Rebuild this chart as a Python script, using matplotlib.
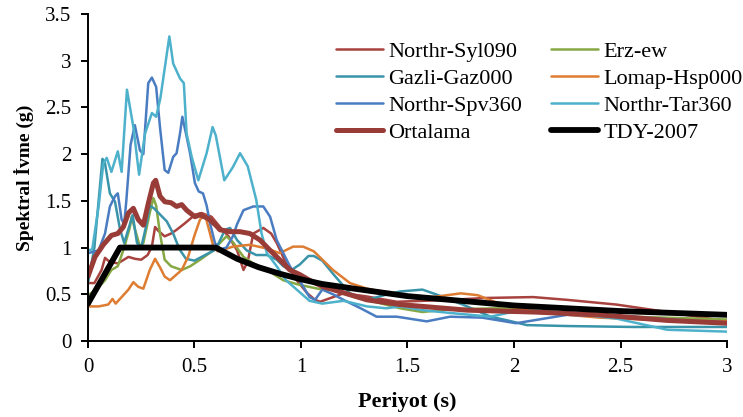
import matplotlib.pyplot as plt

plt.rcParams.update({"font.family": ["Liberation Serif", "DejaVu Serif"]})
plt.rcParams.update({"xtick.labelsize": 15})
plt.rcParams.update({"ytick.labelsize": 15})
plt.rcParams.update({"lines.solid_joinstyle": "round"})
plt.rcParams.update({"lines.solid_capstyle": "round"})

# Periyot (s) / Spektral ivme (g)
t_syl = [0, 0.03, 0.064, 0.08, 0.10, 0.14, 0.19, 0.22, 0.25, 0.28, 0.30, 0.315, 0.33, 0.36, 0.39,
         0.416, 0.455, 0.502, 0.533, 0.58, 0.62, 0.66, 0.70, 0.73, 0.75, 0.776, 0.823, 0.86, 0.886,
         0.93, 0.98, 1.03, 1.066, 1.09, 1.2, 1.3, 1.45, 1.70, 1.86, 2.09, 2.25, 2.48, 2.72, 3.0]
s_syl = [0.62, 0.62, 0.76, 0.89, 0.85, 0.83, 0.90, 0.88, 0.87, 0.92, 1.01, 1.22, 1.18, 1.12, 1.15,
         1.19, 1.26, 1.35, 1.37, 1.33, 1.22, 1.12, 0.97, 0.76, 0.85, 1.15, 1.21, 1.15, 1.05,
         0.83, 0.65, 0.51, 0.44, 0.42, 0.51, 0.48, 0.42, 0.44, 0.46, 0.47, 0.44, 0.39, 0.31, 0.21]

t_erz = [0, 0.04, 0.08, 0.11, 0.14, 0.17, 0.197, 0.205, 0.22, 0.244, 0.26, 0.29, 0.307, 0.32, 0.338,
         0.36, 0.39, 0.44, 0.48, 0.533, 0.588, 0.62, 0.65, 0.68, 0.73, 0.776, 0.84, 0.917, 0.995, 1.1,
         1.15, 1.31, 1.465, 1.57, 1.7, 1.93, 2.25, 2.56, 3.0]
s_erz = [0.49, 0.55, 0.65, 0.76, 0.80, 1.0, 1.22, 1.33, 1.2, 1.01, 1.05, 1.37, 1.53, 1.45, 1.15,
         0.87, 0.80, 0.76, 0.80, 0.88, 0.97, 1.05, 1.12, 1.06, 0.90, 0.83, 0.76, 0.65, 0.60, 0.55,
         0.55, 0.44, 0.35, 0.31, 0.34, 0.35, 0.30, 0.26, 0.23]

t_gaz = [0, 0.03, 0.05, 0.068, 0.08, 0.103, 0.127, 0.15, 0.17, 0.19, 0.21, 0.23, 0.25, 0.27, 0.29,
         0.31, 0.34, 0.37, 0.40, 0.43, 0.46, 0.50, 0.55, 0.60, 0.643, 0.667, 0.70, 0.745, 0.79, 0.84,
         0.886, 0.917, 0.956, 0.995, 1.035, 1.06, 1.1, 1.15, 1.23, 1.31, 1.39, 1.465, 1.57, 1.67,
         1.78, 1.89, 1.97, 2.06, 2.25, 2.56, 3.0]
s_gaz = [0.62, 1.0, 1.5, 1.95, 1.90, 1.58, 1.49, 1.20, 1.05, 1.20, 1.35, 1.05, 1.0, 1.2, 1.45,
         1.42, 1.35, 1.28, 1.15, 0.98, 0.88, 0.86, 0.92, 0.98, 1.19, 1.21, 1.08, 0.97, 0.92, 0.92,
         0.87, 0.80, 0.76, 0.82, 0.91, 0.91, 0.86, 0.72, 0.51, 0.44, 0.49, 0.53, 0.55, 0.47,
         0.37, 0.26, 0.22, 0.17, 0.16, 0.15, 0.15]

t_lom = [0, 0.05, 0.095, 0.115, 0.13, 0.166, 0.19, 0.213, 0.236, 0.26, 0.29, 0.315, 0.34, 0.36,
         0.385, 0.41, 0.44, 0.47, 0.50, 0.526, 0.55, 0.573, 0.59, 0.61, 0.64, 0.68, 0.76, 0.84, 0.90,
         0.963, 1.01, 1.06, 1.15, 1.23, 1.31, 1.465, 1.62, 1.75, 1.83, 1.93, 2.09, 2.25, 2.40, 2.72, 3.0]
s_lom = [0.37, 0.37, 0.39, 0.45, 0.40, 0.49, 0.55, 0.63, 0.58, 0.56, 0.76, 0.88, 0.78, 0.69,
         0.65, 0.70, 0.76, 0.90, 1.13, 1.30, 1.35, 1.15, 1.0, 0.96, 0.98, 1.01, 1.03, 0.99, 0.94,
         1.01, 1.01, 0.96, 0.76, 0.62, 0.56, 0.49, 0.47, 0.51, 0.49, 0.40, 0.31, 0.28, 0.25, 0.22, 0.21]

t_spv = [0, 0.05, 0.08, 0.103, 0.127, 0.14, 0.158, 0.17, 0.18, 0.20, 0.22, 0.244, 0.26, 0.283, 0.30,
         0.32, 0.338, 0.36, 0.377, 0.40, 0.416, 0.432, 0.443, 0.46, 0.48, 0.502, 0.52, 0.54, 0.557,
         0.573, 0.596, 0.62, 0.65, 0.68, 0.70, 0.73, 0.776, 0.823, 0.855, 0.886, 0.917, 0.948, 0.995,
         1.04, 1.066, 1.1, 1.15, 1.2, 1.28, 1.355, 1.45, 1.59, 1.7, 1.85, 2.01, 2.25, 2.56, 2.8, 3.0]
s_spv = [0.94, 0.97, 1.15, 1.44, 1.55, 1.58, 1.30, 1.25, 1.5, 2.1, 2.31, 2.04, 2.0, 2.76, 2.82,
         2.72, 2.29, 1.83, 1.80, 1.97, 2.01, 2.22, 2.40, 2.22, 2.0, 1.69, 1.60, 1.58, 1.45,
         1.26, 1.05, 0.98, 1.0, 1.12, 1.25, 1.40, 1.44, 1.44, 1.33, 1.08, 0.94, 0.80, 0.64,
         0.47, 0.44, 0.55, 0.50, 0.44, 0.35, 0.26, 0.26, 0.21, 0.26, 0.25, 0.19, 0.28, 0.26, 0.22, 0.20]

t_tar = [0, 0.02, 0.05, 0.072, 0.088, 0.11, 0.14, 0.158, 0.183, 0.213, 0.24, 0.268, 0.30, 0.32,
         0.34, 0.382, 0.40, 0.432, 0.45, 0.463, 0.487, 0.518, 0.557, 0.585, 0.60, 0.64, 0.68, 0.714,
         0.75, 0.79, 0.815, 0.84, 0.886, 0.93, 0.98, 1.04, 1.10, 1.2, 1.31, 1.40, 1.47, 1.57, 1.70,
         1.89, 1.97, 2.1, 2.25, 2.48, 2.6, 2.72, 3.0]
s_tar = [0.97, 0.98, 1.44, 1.90, 1.96, 1.81, 2.03, 1.81, 2.69, 2.29, 1.78, 2.22, 2.44, 2.40,
         2.6, 3.26, 2.97, 2.81, 2.76, 2.22, 1.97, 1.72, 2.01, 2.29, 2.2, 1.72, 1.86, 2.01,
         1.87, 1.51, 1.15, 0.94, 0.80, 0.65, 0.55, 0.43, 0.40, 0.43, 0.37, 0.35, 0.37, 0.33, 0.30,
         0.26, 0.30, 0.32, 0.30, 0.24, 0.18, 0.12, 0.10]

t_ort = [0, 0.033, 0.072, 0.11, 0.14, 0.166, 0.19, 0.213, 0.236, 0.26, 0.283, 0.307, 0.318, 0.338,
         0.361, 0.39, 0.416, 0.44, 0.463, 0.502, 0.526, 0.565, 0.60, 0.62, 0.667, 0.714, 0.76, 0.808,
         0.855, 0.90, 0.948, 0.995, 1.04, 1.105, 1.15, 1.31, 1.465, 1.78, 2.09, 2.40, 2.72, 3.0]
s_ort = [0.69, 0.90, 1.03, 1.13, 1.15, 1.22, 1.37, 1.42, 1.30, 1.24, 1.47, 1.69, 1.72, 1.55,
         1.49, 1.48, 1.44, 1.46, 1.40, 1.33, 1.35, 1.31, 1.24, 1.19, 1.17, 1.17, 1.15, 1.08,
         0.97, 0.87, 0.76, 0.71, 0.65, 0.58, 0.55, 0.44, 0.39, 0.33, 0.31, 0.28, 0.22, 0.19]

t_tdy = [0, 0.15, 0.6, 0.7, 0.8, 0.9, 1.0, 1.1, 1.25, 1.5, 1.75, 2.0, 2.25, 2.5, 2.75, 3.0]
s_tdy = [0.4, 1.0, 1.0, 0.88, 0.79, 0.72, 0.66, 0.61, 0.56, 0.48, 0.43, 0.38, 0.35, 0.32, 0.30, 0.28]


fig = plt.figure(figsize=(7.43, 4.17), dpi=100)
ax = fig.add_axes([0.1184, 0.1823, 0.8601, 0.7841])

l_syl, = ax.plot(t_syl, s_syl, color="#A8423F", lw=1.8, label="Northr-Syl090")
l_erz, = ax.plot(t_erz, s_erz, color="#86A844", lw=1.8, label="Erz-ew")
l_gaz, = ax.plot(t_gaz, s_gaz, color="#3A94A9", lw=1.8, label="Gazli-Gaz000")
l_lom, = ax.plot(t_lom, s_lom, color="#DE7C31", lw=1.8, label="Lomap-Hsp000")
l_spv, = ax.plot(t_spv, s_spv, color="#4A7CC2", lw=1.8, label="Northr-Spv360")
l_tar, = ax.plot(t_tar, s_tar, color="#4DB1CB", lw=1.8, label="Northr-Tar360")
l_ort, = ax.plot(t_ort, s_ort, color="#993B37", lw=3.6, label="Ortalama")
l_tdy, = ax.plot(t_tdy, s_tdy, color="black", lw=4.2, label="TDY-2007")

ax.set_xlim(0, 3)
ax.set_ylim(0, 3.5)
ax.set_xticks([0, 0.5, 1, 1.5, 2, 2.5, 3])
ax.set_xticklabels(["0", "0.5", "1", "1.5", "2", "2.5", "3"])
ax.set_yticks([0, 0.5, 1, 1.5, 2, 2.5, 3, 3.5])
ax.set_yticklabels(["0", "0.5", "1", "1.5", "2", "2.5", "3", "3.5"])
for s in ["top", "right"]:
    ax.spines[s].set_visible(False)
for s in ["left", "bottom"]:
    ax.spines[s].set_linewidth(1.4)
ax.tick_params(direction="out", length=5, width=1.4, pad=7)

ax.set_xlabel("Periyot (s)", fontsize=16, fontweight="bold", labelpad=11)
ax.set_ylabel("Spektral İvme (g)", fontsize=14, fontweight="bold", labelpad=8)

handles = [l_syl, l_gaz, l_spv, l_ort, l_erz, l_lom, l_tar, l_tdy]
fig.legend(handles=handles, labels=[h.get_label() for h in handles], ncol=2,
           loc="upper left", bbox_to_anchor=(336 / 743, 1 - 41 / 417),
           bbox_transform=fig.transFigure, frameon=False, fontsize=16,
           borderpad=0, borderaxespad=0, handlelength=2.1, handletextpad=0.25,
           columnspacing=1.3, labelspacing=0.3)

fig.savefig("out.png", dpi=100)
